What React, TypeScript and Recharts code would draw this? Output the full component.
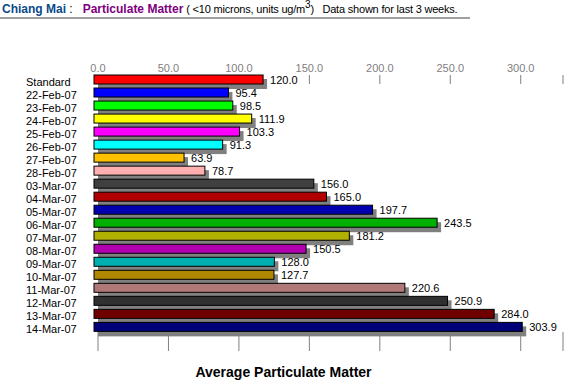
import { BarChart, Bar, XAxis, YAxis, LabelList, CartesianGrid } from 'recharts';

const categories = [
  'Standard',
  '22-Feb-07', '23-Feb-07', '24-Feb-07', '25-Feb-07', '26-Feb-07', '27-Feb-07', '28-Feb-07',
  '03-Mar-07', '04-Mar-07', '05-Mar-07', '06-Mar-07', '07-Mar-07', '08-Mar-07',
  '09-Mar-07', '10-Mar-07', '11-Mar-07', '12-Mar-07', '13-Mar-07', '14-Mar-07',
];

const pm10 = [
  120.0,
  95.4, 98.5, 111.9, 103.3, 91.3, 63.9, 78.7,
  156.0, 165.0, 197.7, 243.5, 181.2, 150.5,
  128.0, 127.7, 220.6, 250.9, 284.0, 303.9,
];

const barColors = [
  '#ff0000',
  '#0000ff', '#00ff00', '#ffff00', '#ff00ff', '#00ffff', '#ffc000', '#ffafaf',
  '#404040', '#b00000', '#0000b0', '#00b000', '#b0b000', '#b000b0',
  '#00b0b0', '#b08800', '#b07878', '#303030', '#700000', '#000078',
];

const axisTicks = [0, 50, 100, 150, 200, 250, 300];

const data = categories.map((name, i) => ({ name, value: pm10[i], color: barColors[i] }));

const FONT = '"Liberation Sans", Arial, sans-serif';

function ShadowBar(props: any) {
  const { x, y, width, height, payload } = props;
  if (!width || width <= 0) return null;
  return (
    <g>
      <rect x={x} y={y + 2} width={width} height={height} fill="#808080" />
      <rect x={x - 4} y={y - 2} width={width} height={height - 1} fill={payload.color} stroke="#000" strokeWidth={1} />
    </g>
  );
}

function TopTick(props: any) {
  const { x, y, payload } = props;
  return (
    <text x={x} y={y - 3} textAnchor="middle" fill="#808080" fontSize={11} fontFamily={FONT}>
      {payload.value.toFixed(1)}
    </text>
  );
}

function RowLabel(props: any) {
  const { y, payload } = props;
  return (
    <text x={26} y={y + 4} textAnchor="start" fill="#000" fontSize={11} fontFamily={FONT}>
      {payload.value}
    </text>
  );
}

function ValueLabel(props: any) {
  const { x, y, width, value } = props;
  return (
    <text x={x + width + 3} y={y + 7} fill="#000" fontSize={11} fontFamily={FONT}>
      {Number(value).toFixed(1)}
    </text>
  );
}

export default function App() {
  return (
    <div style={{ position: 'absolute', left: 0, top: 0, width: 567, height: 388, background: '#fff', fontFamily: FONT }}>
      <div style={{ position: 'absolute', left: 2, top: 2, fontSize: 12, lineHeight: '14px', whiteSpace: 'nowrap', color: '#000' }}>
        <b style={{ color: '#0a4a8a' }}>Chiang Mai</b>
        <span> :&nbsp;&nbsp; </span>
        <b style={{ color: '#800080' }}>Particulate Matter</b>
        <span style={{ fontSize: 11, letterSpacing: -0.2 }}> ( &lt;10 microns, units ug/m<span style={{ position: 'relative', top: -5, fontSize: 10 }}>3</span>)&nbsp;&nbsp; Data shown for last 3 weeks.</span>
      </div>
      <div style={{ position: 'absolute', left: 0, top: 17, width: 470, height: 2, background: '#a0a0a0' }} />
      <BarChart
        width={567}
        height={388}
        data={data}
        layout="vertical"
        margin={{ top: 0, right: 4, bottom: 0, left: 0 }}
        barSize={10}
      >
        {/* short tick marks under the scale and below the last bar */}
        <CartesianGrid xAxisId="top" horizontal={false} y={75} height={9} stroke="#808080" strokeDasharray="" />
        <CartesianGrid xAxisId="top" horizontal={false} y={332} height={19} stroke="#808080" strokeDasharray="" />
        <XAxis
          xAxisId="top"
          orientation="top"
          type="number"
          domain={[0, 330]}
          ticks={axisTicks}
          height={75}
          axisLine={false}
          tickLine={false}
          tickSize={0}
          tickMargin={0}
          tick={<TopTick />}
          interval={0}
        />
        <XAxis
          xAxisId="bottom"
          orientation="bottom"
          type="number"
          domain={[0, 330]}
          ticks={axisTicks}
          height={52.6}
          axisLine={false}
          tickLine={false}
          tick={false}
        />
        <YAxis
          type="category"
          dataKey="name"
          width={98}
          axisLine={false}
          tickLine={false}
          tick={<RowLabel />}
          interval={0}
        />
        <Bar xAxisId="top" dataKey="value" shape={<ShadowBar />} isAnimationActive={false}>
          <LabelList dataKey="value" content={<ValueLabel />} />
        </Bar>
      </BarChart>
      <div style={{ position: 'absolute', left: 0, width: 567, top: 364, textAlign: 'center', fontSize: 14, fontWeight: 'bold', color: '#000' }}>
        Average Particulate Matter
      </div>
    </div>
  );
}
